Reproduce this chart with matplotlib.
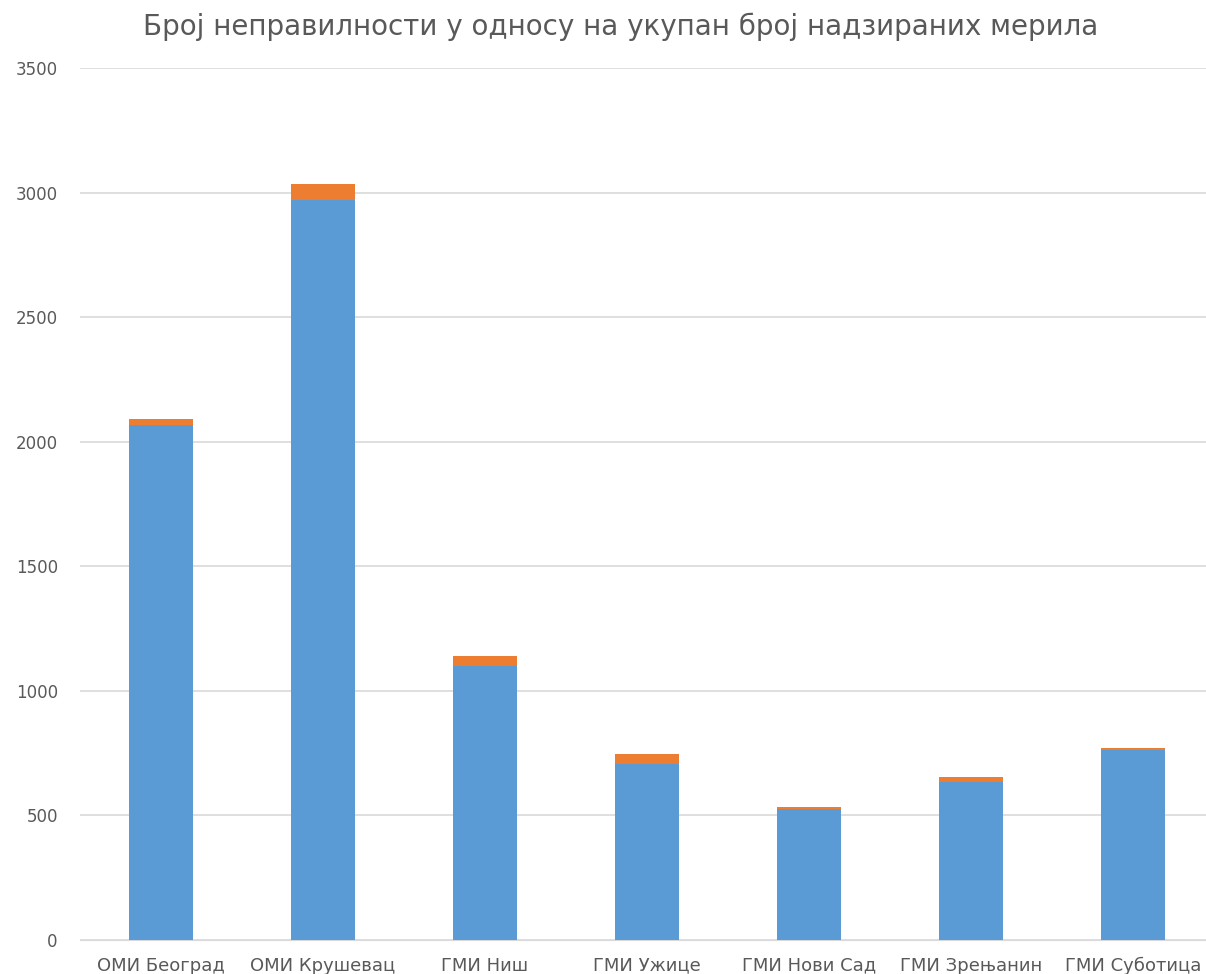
import numpy as np
import matplotlib.pyplot as plt

categories = ["ОМИ Београд", "ОМИ Крушевац", "ГМИ Ниш", "ГМИ Ужице",
              "ГМИ Нови Сад", "ГМИ Зрењанин", "ГМИ Суботица"]
checked = [2066, 2970, 1098, 707, 526, 636, 764]
irregular = [26, 66, 40, 38, 6, 19, 5]

plt.rcParams['font.family'] = ['DejaVu Sans']

fig = plt.figure(figsize=(12.06, 9.74), dpi=100)
ax = fig.add_axes([80 / 1206, 1 - 940 / 974, 1134 / 1206, 872 / 974])

x = np.arange(len(categories))
ax.bar(x, checked, width=0.4, color='#5B9BD5', zorder=3)
ax.bar(x, irregular, width=0.4, bottom=checked, color='#ED7D31', zorder=3)

ax.set_xlim(-0.5, len(categories) - 0.5)
ax.set_ylim(0, 3500)
ax.set_yticks(np.arange(0, 3501, 500))
ax.yaxis.grid(True, color='#D9D9D9', linewidth=1.2, zorder=0)
ax.set_xticks(x)
ax.set_xticklabels(categories, fontsize=13)
ax.tick_params(axis='both', length=0, colors='#595959')
ax.tick_params(axis='y', pad=16, labelsize=12)
ax.tick_params(axis='x', pad=12)
for s in ['top', 'right', 'left']:
    ax.spines[s].set_visible(False)
ax.spines['bottom'].set_color('#D9D9D9')

fig.text(0.515, 0.973, "Број неправилности у односу на укупан број надзираних мерила",
         ha='center', va='center', fontsize=20, color='#595959')

fig.savefig('out.png', dpi=100)
